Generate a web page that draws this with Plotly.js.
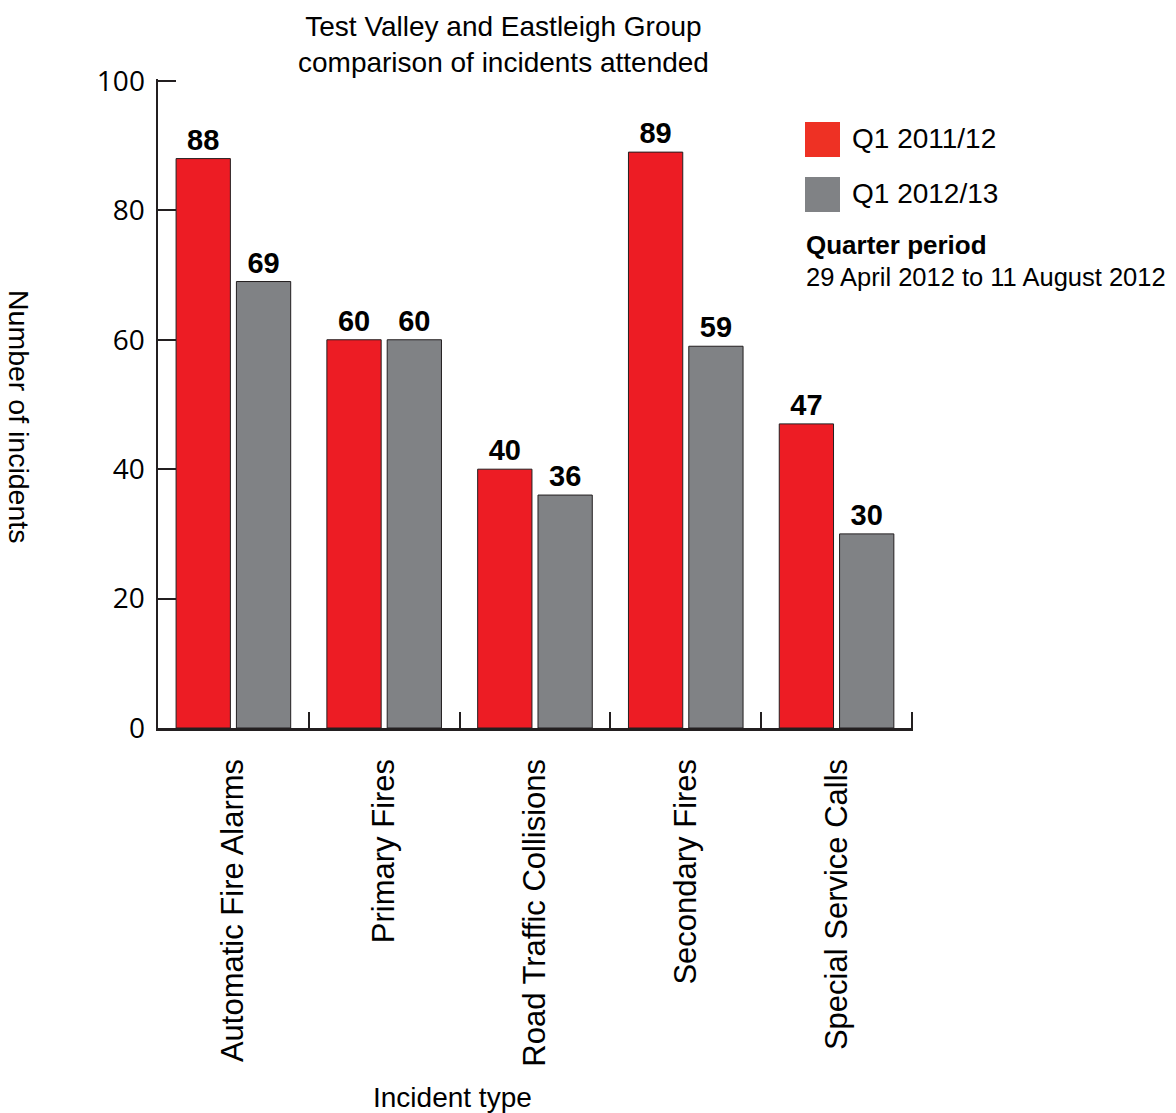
<!DOCTYPE html>
<html>
<head>
<meta charset="utf-8">
<script src="https://cdn.plot.ly/plotly-3.0.1.min.js"></script>
<style>
  html, body { margin: 0; padding: 0; background: #ffffff; }
  #chart { width: 1176px; height: 1113px; }
</style>
</head>
<body>
<div id="chart"></div>
<script>
// ---- Data ----
const categories = ["Automatic Fire Alarms", "Primary Fires", "Road Traffic Collisions", "Secondary Fires", "Special Service Calls"];
const seriesNames = ["Q1 2011/12", "Q1 2012/13"];
const q1_2011_12 = [88, 60, 40, 89, 47];
const q1_2012_13 = [69, 60, 36, 59, 30];
const yTickVals = [0, 20, 40, 60, 80, 100];

const chartTitle = "Test Valley and Eastleigh Group<br>comparison of incidents attended";
const xTitle = "Incident type";
const yTitle = "Number of incidents";
const periodHeading = "Quarter period";
const periodText = "29 April 2012 to 11 August 2012";

// ---- Styling ----
const W = 1176, H = 1113;
const M = { l: 158, r: 263, t: 79, b: 385 };
const RED = "#ED1C24", GREY = "#808285", INK = "#231F20";
const SANS = "Liberation Sans, Arial, Helvetica, sans-serif";
const TICKFONT = "Open Sans, Liberation Sans, sans-serif";

// pixel -> paper helpers (for decorative legend/annotation placement)
const pw = W - M.l - M.r, ph = H - M.t - M.b;
const px = x => (x - M.l) / pw;
const py = y => (H - M.b - y) / ph;

const barCommon = {
  type: "bar",
  x: categories,
  textposition: "outside",
  cliponaxis: false,
  constraintext: "none",
  texttemplate: "%{y}",
  textfont: { family: SANS, size: 29, color: "#000000", weight: "bold" },
  hoverinfo: "skip",
  showlegend: false
};

const traces = [
  Object.assign({}, barCommon, {
    name: seriesNames[0], y: q1_2011_12,
    marker: { color: RED, line: { color: INK, width: 1 } }
  }),
  Object.assign({}, barCommon, {
    name: seriesNames[1], y: q1_2012_13,
    marker: { color: GREY, line: { color: INK, width: 1 } }
  })
];

const layout = {
  width: W, height: H,
  margin: M,
  paper_bgcolor: "#ffffff",
  plot_bgcolor: "#ffffff",
  barmode: "group",
  bargap: 0.2,
  bargroupgap: 0.1,
  showlegend: false,
  font: { family: SANS, color: "#000000" },
  xaxis: {
    type: "category",
    // tiny extension past the last boundary so its inside tick is kept
    range: [-0.5, categories.length - 0.5 + 0.007],
    showline: true, linecolor: INK, linewidth: 2.5,
    ticks: "inside", ticklen: 16, tickwidth: 2, tickcolor: INK,
    tickson: "boundaries",
    tickangle: -90,
    tickfont: { family: SANS, size: 31, color: "#000000" },
    ticklabelstandoff: 16,
    showgrid: false, zeroline: false, fixedrange: true
  },
  yaxis: {
    // tiny extension past 100 so the top inside tick is kept
    range: [0, 100.3],
    tickvals: yTickVals,
    showline: true, linecolor: INK, linewidth: 2.5,
    ticks: "inside", ticklen: 18, tickwidth: 2, tickcolor: INK,
    tickfont: { family: TICKFONT, size: 28, color: "#000000" },
    ticklabelstandoff: 5,
    showgrid: false, zeroline: false, fixedrange: true
  },
  annotations: [
    { text: chartTitle, xref: "paper", yref: "paper", x: px(503), y: py(9),
      xanchor: "center", yanchor: "top", showarrow: false,
      font: { family: SANS, size: 28, color: "#000000" } },
    { text: xTitle, xref: "paper", yref: "paper", x: px(452), y: py(1097),
      xanchor: "center", yanchor: "middle", showarrow: false,
      font: { family: SANS, size: 28, color: "#000000" } },
    { text: yTitle, xref: "paper", yref: "paper", x: px(19), y: py(416),
      xanchor: "center", yanchor: "middle", showarrow: false, textangle: 90,
      font: { family: SANS, size: 28.5, color: "#000000" } },
    { text: seriesNames[0], xref: "paper", yref: "paper", x: px(850), y: py(139),
      xanchor: "left", yanchor: "middle", showarrow: false,
      font: { family: SANS, size: 28, color: "#000000" } },
    { text: seriesNames[1], xref: "paper", yref: "paper", x: px(850), y: py(194),
      xanchor: "left", yanchor: "middle", showarrow: false,
      font: { family: SANS, size: 28, color: "#000000" } },
    { text: "<b>" + periodHeading + "</b>", xref: "paper", yref: "paper", x: px(804), y: py(245),
      xanchor: "left", yanchor: "middle", showarrow: false,
      font: { family: SANS, size: 26, color: "#000000" } },
    { text: periodText, xref: "paper", yref: "paper", x: px(804), y: py(277),
      xanchor: "left", yanchor: "middle", showarrow: false,
      font: { family: SANS, size: 25.5, color: "#000000" } }
  ],
  shapes: [
    { type: "rect", xref: "paper", yref: "paper", x0: px(805), x1: px(840), y0: py(157), y1: py(122),
      fillcolor: "#EE3124", line: { width: 0 } },
    { type: "rect", xref: "paper", yref: "paper", x0: px(805), x1: px(840), y0: py(212), y1: py(177),
      fillcolor: GREY, line: { width: 0 } }
  ]
};

Plotly.newPlot("chart", traces, layout, { displayModeBar: false, staticPlot: true });
</script>
</body>
</html>
